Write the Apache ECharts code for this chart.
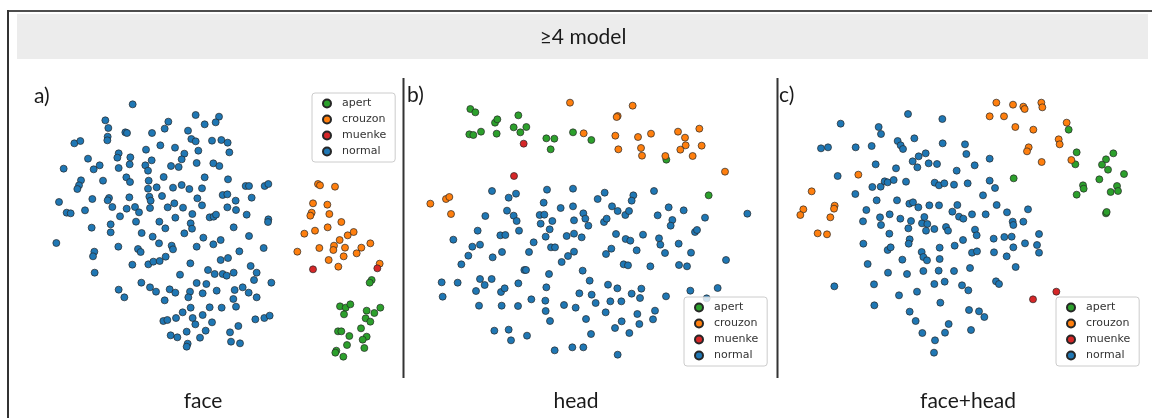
<!DOCTYPE html>
<html>
<head>
<meta charset="utf-8">
<script src="https://cdn.jsdelivr.net/npm/echarts@6/dist/echarts.min.js"></script>
<style>
  html, body { margin: 0; padding: 0; background: #ffffff; }
  #chart { width: 1152px; height: 418px; }
</style>
</head>
<body>
<div id="chart"></div>
<script>
// Groups in legend / drawing order and their colours
const groups = ['apert', 'crouzon', 'muenke', 'normal'];
const groupColors = ['#2ca02c', '#ff7f0e', '#d62728', '#1f77b4'];

const figureTitle = '\u22654 model';
const panelTitles = ['face', 'head', 'face+head'];
const panelTags = ['a)', 'b)', 'c)'];

// 2-D embedding coordinates (embedding units), one list per panel and group
const faceApert = [[1055,600],[1049,608],[960,679],[977,683],[991,673],[972,703],[1040,692],[1081,683],[1063,699],[1037,715],[1051,725],[954,754],[964,754],[988,768],[1023,745],[1040,770],[1028,779],[981,795],[1033,804],[949,812],[946,818],[970,830]];
const faceCrouzon = [[894,312],[900,316],[945,320],[879,370],[922,374],[875,398],[871,407],[928,402],[964,426],[923,442],[885,452],[853,461],[983,466],[1001,456],[959,480],[832,515],[898,504],[942,497],[940,510],[975,503],[1024,503],[1010,520],[1051,490],[926,540],[971,529],[955,560],[1079,551]];
const faceMuenke = [[879,568],[1072,565]];
const faceNormal = [[338,73],[527,105],[256,121],[445,125],[265,144],[316,157],[321,159],[396,159],[434,146],[504,152],[514,177],[527,184],[263,170],[262,181],[163,190],[181,183],[421,196],[465,203],[535,212],[378,209],[296,220],[292,233],[331,232],[493,221],[485,238],[204,236],[239,256],[221,268],[296,264],[329,253],[376,256],[395,241],[453,258],[476,261],[530,249],[131,266],[384,272],[249,302],[183,301],[177,316],[172,327],[319,292],[330,306],[386,302],[431,291],[384,326],[410,322],[459,323],[485,315],[508,327],[267,354],[263,361],[217,357],[328,352],[388,350],[392,362],[426,348],[463,370],[443,382],[532,355],[117,366],[140,398],[152,400],[195,391],[300,409],[277,381],[320,386],[345,381],[357,397],[390,384],[466,413],[489,383],[517,402],[215,443],[272,433],[272,457],[348,425],[418,425],[436,445],[512,430],[516,446],[493,460],[365,459],[398,470],[417,490],[455,497],[459,508],[109,489],[223,515],[219,529],[224,578],[295,500],[354,507],[362,516],[530,500],[337,554],[385,553],[400,545],[419,543],[437,530],[511,550],[480,584],[364,608],[390,622],[408,635],[296,629],[313,652],[449,628],[466,638],[510,635],[530,609],[434,661],[505,652],[512,683],[488,697],[468,714],[430,723],[442,720],[518,714],[526,733],[452,766],[472,772],[500,755],[503,791],[500,800],
  [597,110],[587,127],[554,133],[576,182],[604,180],[623,188],[628,217],[580,250],[598,258],[554,292],[546,325],[624,298],[677,318],[687,318],[734,318],[745,312],[608,345],[622,343],[647,362],[695,353],[546,376],[622,382],[648,390],[569,412],[581,410],[588,404],[680,404],[745,418],[744,426],[641,442],[550,473],[580,493],[602,480],[687,468],[731,504],[658,514],[602,540],[624,534],[692,558],[710,578],[564,570],[584,582],[608,582],[620,587],[641,578],[702,600],[754,608],[559,612],[548,640],[590,632],[644,630],[668,622],[686,638],[710,652],[640,657],[648,680],[569,682],[605,683],[548,705],[576,727],[655,738],[706,718],[733,714],[749,707],[557,752],[630,757],[540,773],[633,785],[660,790]];

const headApert = [[211,87],[226,97],[285,128],[292,118],[355,106],[208,163],[220,165],[243,155],[290,161],[341,142],[361,157],[379,141],[439,175],[463,176],[452,208],[519,157],[574,180],[799,239],[926,346]];
const headCrouzon = [[510,68],[91,371],[138,357],[148,351],[153,402],[698,77],[653,108],[650,111],[551,160],[646,167],[714,171],[753,161],[655,208],[723,204],[726,227],[796,228],[834,155],[855,173],[898,146],[857,196],[841,209],[905,197],[878,228],[975,275]];
const headMuenke = [[371,191],[342,288]];
const headNormal = [[276,333],[326,353],[348,341],[441,329],[519,326],[431,368],[482,384],[519,379],[321,392],[341,407],[350,423],[419,405],[433,404],[422,431],[457,423],[522,421],[256,408],[233,452],[301,466],[316,465],[357,452],[449,448],[437,470],[500,468],[522,461],[160,479],[217,500],[240,494],[205,527],[278,532],[306,516],[387,516],[401,487],[453,502],[465,502],[504,528],[522,515],[485,546],[184,553],[373,570],[378,570],[447,582],[125,607],[173,608],[240,597],[254,615],[275,597],[355,610],[228,633],[303,636],[314,625],[439,622],[538,640],[128,650],[237,677],[305,677],[354,678],[394,658],[436,662],[437,693],[492,675],[527,683],[450,723],[283,752],[326,749],[333,781],[381,767],[464,811],[517,802],
  [614,338],[762,333],[593,357],[700,346],[695,362],[636,379],[653,393],[676,405],[687,393],[806,382],[851,391],[773,406],[817,420],[812,437],[915,413],[1042,401],[550,400],[556,416],[565,437],[612,426],[620,416],[648,462],[677,477],[691,482],[729,464],[777,475],[781,494],[545,472],[634,506],[618,522],[710,511],[795,519],[836,491],[873,518],[885,456],[891,450],[978,540],[671,553],[684,556],[751,559],[837,555],[861,559],[548,572],[569,602],[624,614],[652,625],[724,626],[695,641],[720,654],[798,649],[871,632],[953,624],[920,655],[575,644],[587,669],[631,664],[664,664],[617,697],[712,702],[765,692],[759,718],[558,717],[665,724],[645,744],[718,732],[573,762],[688,759],[550,802],[653,824]];

const bothApert = [[881,149],[905,217],[901,253],[1015,220],[993,238],[981,254],[999,269],[1047,282],[973,298],[716,295],[924,316],[926,326],[905,344],[1026,318],[1029,333],[1007,336],[993,400],[995,396]];
const bothCrouzon = [[250,284],[110,334],[85,388],[76,405],[179,377],[177,386],[166,412],[128,460],[156,463],[664,68],[714,74],[745,80],[749,87],[799,68],[802,82],[644,109],[687,109],[721,141],[775,149],[875,128],[851,178],[854,193],[761,202],[756,214],[800,246],[889,240]];
const bothMuenke = [[774,658],[844,635]];
const bothNormal = [[399,102],[502,117],[197,131],[311,141],[318,162],[138,205],[159,202],[242,202],[290,198],[368,183],[377,196],[384,207],[418,175],[503,190],[302,253],[363,265],[413,244],[427,262],[431,229],[452,220],[461,250],[486,252],[188,288],[241,342],[292,321],[317,320],[329,304],[338,307],[356,300],[393,305],[479,308],[492,316],[508,310],[537,314],[305,361],[366,361],[403,371],[414,367],[430,382],[463,376],[492,376],[532,395],[274,390],[264,424],[315,412],[318,435],[344,403],[376,416],[408,423],[400,445],[441,430],[448,411],[457,432],[453,452],[478,447],[513,441],[519,452],[343,461],[265,491],[338,510],[347,502],[404,478],[401,491],[494,503],[539,497],[440,516],[445,531],[456,541],[382,539],[494,537],[278,552],[339,578],[396,582],[445,573],[491,572],[537,573],[178,619],[297,613],[478,612],[509,605],[372,646],[426,635],[496,668],[298,676],[404,695],[422,723],[521,732],[442,759],[510,758],[480,781],[477,818],
  [570,193],[574,222],[644,236],[599,256],[545,272],[578,310],[644,302],[660,324],[624,346],[547,375],[665,375],[552,410],[565,416],[591,403],[632,403],[696,397],[759,388],[713,425],[715,435],[745,425],[600,449],[605,466],[564,480],[656,476],[688,471],[710,470],[715,502],[750,490],[792,462],[786,495],[792,518],[591,518],[606,514],[657,517],[695,529],[722,561],[585,564],[561,616],[580,631],[663,604],[672,612],[582,690],[612,694],[628,711],[588,750]];

const panelData = [
  [faceApert, faceCrouzon, faceMuenke, faceNormal],
  [headApert, headCrouzon, headMuenke, headNormal],
  [bothApert, bothCrouzon, bothMuenke, bothNormal]
];

// Plot area of each panel and the embedding extent it shows
const panels = [
  { left: 20,  width: 380, xMax: 1140, legend: { left: 312,  top: 93 },  tag: [34, 96],  title: 203 },
  { left: 400, width: 375, xMax: 1125, legend: { left: 684,  top: 297 }, tag: [407, 95], title: 576 },
  { left: 775, width: 375, xMax: 1125, legend: { left: 1056, top: 297 }, tag: [779, 95], title: 968 }
];
const plotTop = 80, plotHeight = 290, yMax = 870;

const textFont = 'Lato, "Open Sans", sans-serif';

const grid = [], xAxis = [], yAxis = [], series = [], legend = [];
panels.forEach((p, i) => {
  grid.push({ left: p.left, top: plotTop, width: p.width, height: plotHeight, containLabel: false });
  xAxis.push({ type: 'value', gridIndex: i, min: 0, max: p.xMax, show: false });
  yAxis.push({ type: 'value', gridIndex: i, min: 0, max: yMax, inverse: true, show: false });
  groups.forEach((g, k) => {
    series.push({
      type: 'scatter',
      name: g,
      xAxisIndex: i,
      yAxisIndex: i,
      data: panelData[i][k],
      symbol: 'circle',
      symbolSize: 7,
      itemStyle: { color: groupColors[k], borderColor: '#262626', borderWidth: 0.7, opacity: 1 },
      emphasis: { disabled: true },
      silent: true,
      z: 2
    });
  });
  legend.push({
    orient: 'vertical',
    left: p.legend.left,
    top: p.legend.top,
    data: groups,
    icon: 'circle',
    itemWidth: 8,
    itemHeight: 8,
    itemGap: 3,
    padding: [4, 9, 4, 10],
    backgroundColor: 'rgba(255,255,255,0.8)',
    borderColor: '#cccccc',
    borderWidth: 1,
    borderRadius: 3,
    selectedMode: false,
    z: 10,
    textStyle: {
      fontFamily: '"DejaVu Sans", sans-serif',
      fontSize: 11,
      lineHeight: 13,
      color: '#333333',
      padding: [0, 0, 0, 6]
    }
  });
});

const graphic = [
  // figure frame (top and left edges)
  { type: 'line', shape: { x1: 8, y1: 11, x2: 1152, y2: 11 }, style: { stroke: '#4d4d4d', lineWidth: 2 }, silent: true },
  { type: 'line', shape: { x1: 8, y1: 10, x2: 8, y2: 418 }, style: { stroke: '#333333', lineWidth: 2 }, silent: true },
  // header band
  { type: 'rect', shape: { x: 17, y: 14, width: 1131, height: 45 }, style: { fill: '#ececec' }, silent: true },
  { type: 'text', x: 583, y: 37, style: { text: figureTitle, font: '21px ' + textFont, fill: '#1a1a1a', align: 'center', verticalAlign: 'middle' }, silent: true },
  // panel separators
  { type: 'line', shape: { x1: 403.5, y1: 78, x2: 403.5, y2: 378 }, style: { stroke: '#333333', lineWidth: 2 }, silent: true },
  { type: 'line', shape: { x1: 777.5, y1: 78, x2: 777.5, y2: 378 }, style: { stroke: '#333333', lineWidth: 2 }, silent: true }
];
panels.forEach((p, i) => {
  graphic.push({ type: 'text', x: p.tag[0], y: p.tag[1], style: { text: panelTags[i], font: '21px ' + textFont, fill: '#1a1a1a', verticalAlign: 'middle' }, silent: true });
  graphic.push({ type: 'text', x: p.title, y: 401, style: { text: panelTitles[i], font: '21px ' + textFont, fill: '#1a1a1a', align: 'center', verticalAlign: 'middle' }, silent: true });
});

const chart = echarts.init(document.getElementById('chart'), null, { renderer: 'canvas' });
chart.setOption({
  animation: false,
  backgroundColor: '#ffffff',
  grid, xAxis, yAxis, series, legend, graphic
});
</script>
</body>
</html>
